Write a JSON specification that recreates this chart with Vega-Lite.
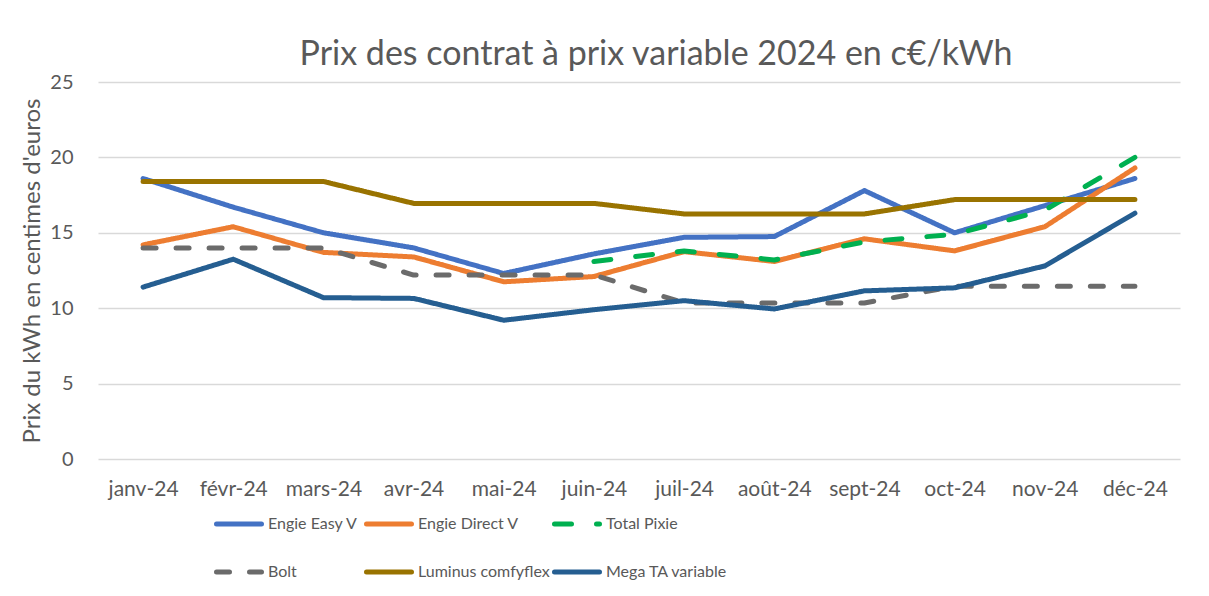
{
  "$schema": "https://vega.github.io/schema/vega-lite/v6.json",
  "width": 1082,
  "height": 377,
  "autosize": {"type": "none"},
  "padding": {"left": 98, "top": 82, "right": 29, "bottom": 137},
  "background": "white",
  "title": {
    "text": "Prix des contrat à prix variable 2024 en c€/kWh",
    "font": "Lato",
    "fontSize": 34,
    "fontWeight": "normal",
    "color": "#595959",
    "anchor": "middle",
    "frame": "group",
    "dx": 17,
    "baseline": "alphabetic",
    "offset": -27
  },
  "config": {
    "view": {"stroke": null},
    "font": "Lato",
    "axis": {"labelFont": "Lato", "titleFont": "Lato", "labelColor": "#595959", "titleColor": "#595959"},
    "legend": {"labelFont": "Lato", "labelColor": "#595959"}
  },
  "data": {
    "values": [
      {"mois": "janv-24", "serie": "Engie Easy  V", "prix": 18.6},
      {"mois": "févr-24", "serie": "Engie Easy  V", "prix": 16.7},
      {"mois": "mars-24", "serie": "Engie Easy  V", "prix": 15.0},
      {"mois": "avr-24", "serie": "Engie Easy  V", "prix": 14.0},
      {"mois": "mai-24", "serie": "Engie Easy  V", "prix": 12.3},
      {"mois": "juin-24", "serie": "Engie Easy  V", "prix": 13.6},
      {"mois": "juil-24", "serie": "Engie Easy  V", "prix": 14.7},
      {"mois": "août-24", "serie": "Engie Easy  V", "prix": 14.75},
      {"mois": "sept-24", "serie": "Engie Easy  V", "prix": 17.8},
      {"mois": "oct-24", "serie": "Engie Easy  V", "prix": 15.0},
      {"mois": "nov-24", "serie": "Engie Easy  V", "prix": 16.8},
      {"mois": "déc-24", "serie": "Engie Easy  V", "prix": 18.6},
      {"mois": "janv-24", "serie": "Engie Direct V", "prix": 14.2},
      {"mois": "févr-24", "serie": "Engie Direct V", "prix": 15.4},
      {"mois": "mars-24", "serie": "Engie Direct V", "prix": 13.7},
      {"mois": "avr-24", "serie": "Engie Direct V", "prix": 13.4},
      {"mois": "mai-24", "serie": "Engie Direct V", "prix": 11.75},
      {"mois": "juin-24", "serie": "Engie Direct V", "prix": 12.1},
      {"mois": "juil-24", "serie": "Engie Direct V", "prix": 13.75},
      {"mois": "août-24", "serie": "Engie Direct V", "prix": 13.1},
      {"mois": "sept-24", "serie": "Engie Direct V", "prix": 14.6},
      {"mois": "oct-24", "serie": "Engie Direct V", "prix": 13.8},
      {"mois": "nov-24", "serie": "Engie Direct V", "prix": 15.4},
      {"mois": "déc-24", "serie": "Engie Direct V", "prix": 19.3},
      {"mois": "juin-24", "serie": "Total Pixie", "prix": 13.1},
      {"mois": "juil-24", "serie": "Total Pixie", "prix": 13.8},
      {"mois": "août-24", "serie": "Total Pixie", "prix": 13.2},
      {"mois": "sept-24", "serie": "Total Pixie", "prix": 14.4},
      {"mois": "oct-24", "serie": "Total Pixie", "prix": 14.9},
      {"mois": "nov-24", "serie": "Total Pixie", "prix": 16.5},
      {"mois": "déc-24", "serie": "Total Pixie", "prix": 20.0},
      {"mois": "janv-24", "serie": "Bolt", "prix": 14.0},
      {"mois": "févr-24", "serie": "Bolt", "prix": 14.0},
      {"mois": "mars-24", "serie": "Bolt", "prix": 14.0},
      {"mois": "avr-24", "serie": "Bolt", "prix": 12.2},
      {"mois": "mai-24", "serie": "Bolt", "prix": 12.2},
      {"mois": "juin-24", "serie": "Bolt", "prix": 12.2},
      {"mois": "juil-24", "serie": "Bolt", "prix": 10.35},
      {"mois": "août-24", "serie": "Bolt", "prix": 10.35},
      {"mois": "sept-24", "serie": "Bolt", "prix": 10.35},
      {"mois": "oct-24", "serie": "Bolt", "prix": 11.45},
      {"mois": "nov-24", "serie": "Bolt", "prix": 11.45},
      {"mois": "déc-24", "serie": "Bolt", "prix": 11.45},
      {"mois": "janv-24", "serie": "Luminus comfyflex", "prix": 18.4},
      {"mois": "févr-24", "serie": "Luminus comfyflex", "prix": 18.4},
      {"mois": "mars-24", "serie": "Luminus comfyflex", "prix": 18.4},
      {"mois": "avr-24", "serie": "Luminus comfyflex", "prix": 16.95},
      {"mois": "mai-24", "serie": "Luminus comfyflex", "prix": 16.95},
      {"mois": "juin-24", "serie": "Luminus comfyflex", "prix": 16.95},
      {"mois": "juil-24", "serie": "Luminus comfyflex", "prix": 16.25},
      {"mois": "août-24", "serie": "Luminus comfyflex", "prix": 16.25},
      {"mois": "sept-24", "serie": "Luminus comfyflex", "prix": 16.25},
      {"mois": "oct-24", "serie": "Luminus comfyflex", "prix": 17.2},
      {"mois": "nov-24", "serie": "Luminus comfyflex", "prix": 17.2},
      {"mois": "déc-24", "serie": "Luminus comfyflex", "prix": 17.2},
      {"mois": "janv-24", "serie": "Mega TA variable", "prix": 11.4},
      {"mois": "févr-24", "serie": "Mega TA variable", "prix": 13.25},
      {"mois": "mars-24", "serie": "Mega TA variable", "prix": 10.7},
      {"mois": "avr-24", "serie": "Mega TA variable", "prix": 10.65},
      {"mois": "mai-24", "serie": "Mega TA variable", "prix": 9.2},
      {"mois": "juin-24", "serie": "Mega TA variable", "prix": 9.9},
      {"mois": "juil-24", "serie": "Mega TA variable", "prix": 10.5},
      {"mois": "août-24", "serie": "Mega TA variable", "prix": 9.95},
      {"mois": "sept-24", "serie": "Mega TA variable", "prix": 11.15},
      {"mois": "oct-24", "serie": "Mega TA variable", "prix": 11.35},
      {"mois": "nov-24", "serie": "Mega TA variable", "prix": 12.8},
      {"mois": "déc-24", "serie": "Mega TA variable", "prix": 16.3}
    ]
  },
  "mark": {"type": "line", "strokeWidth": 5, "strokeCap": "round", "strokeJoin": "round"},
  "encoding": {
    "x": {
      "field": "mois",
      "type": "ordinal",
      "sort": null,
      "scale": {"type": "point", "padding": 0.5},
      "axis": {
        "title": null,
        "labelAngle": 0,
        "labelFontSize": 21,
        "labelPadding": 19,
        "ticks": false,
        "domain": false,
        "grid": false
      }
    },
    "y": {
      "field": "prix",
      "type": "quantitative",
      "scale": {"domain": [0, 25], "nice": false},
      "axis": {
        "title": "Prix du kWh en centimes d'euros",
        "titleFontSize": 24,
        "titleFontWeight": "normal",
        "titlePadding": 5,
        "values": [0, 5, 10, 15, 20, 25],
        "labelFontSize": 20,
        "labelPadding": 25,
        "ticks": false,
        "domain": false,
        "grid": true,
        "gridColor": "#d9d9d9",
        "gridWidth": 1.5
      }
    },
    "color": {
      "field": "serie",
      "type": "nominal",
      "sort": null,
      "scale": {
        "domain": ["Engie Easy  V", "Engie Direct V", "Total Pixie", "Bolt", "Luminus comfyflex", "Mega TA variable"],
        "range": ["#4472C4", "#ED7D31", "#00B050", "#6B6B6B", "#997300", "#255E91"]
      },
      "legend": {
        "title": null,
        "orient": "none",
        "legendX": 116,
        "legendY": 417,
        "direction": "horizontal",
        "columns": 3,
        "gridAlign": "each",
        "columnPadding": -6,
        "rowPadding": 13,
        "symbolType": "stroke",
        "symbolSize": 2025,
        "symbolStrokeWidth": 5,
        "labelFontSize": 16,
        "labelOffset": 4,
        "labelLimit": 300,
        "encode": {"symbols": {"update": {"strokeCap": {"value": "round"}}}}
      }
    },
    "strokeDash": {
      "field": "serie",
      "type": "nominal",
      "sort": null,
      "scale": {
        "domain": ["Engie Easy  V", "Engie Direct V", "Total Pixie", "Bolt", "Luminus comfyflex", "Mega TA variable"],
        "range": [[1, 0], [1, 0], [17, 25], [13, 20], [1, 0], [1, 0]]
      },
      "legend": {
        "title": null,
        "orient": "none",
        "legendX": 116,
        "legendY": 417,
        "direction": "horizontal",
        "columns": 3,
        "gridAlign": "each",
        "columnPadding": -6,
        "rowPadding": 13,
        "symbolType": "stroke",
        "symbolSize": 2025,
        "symbolStrokeWidth": 5,
        "labelFontSize": 16,
        "labelOffset": 4,
        "labelLimit": 300,
        "encode": {"symbols": {"update": {"strokeCap": {"value": "round"}}}}
      }
    }
  }
}
